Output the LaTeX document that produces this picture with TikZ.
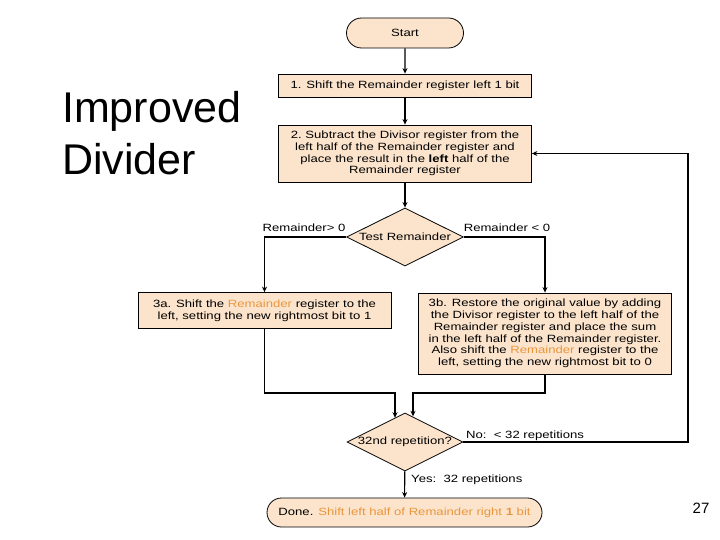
\documentclass[tikz,border=0pt]{standalone}
\usepackage{fontspec}
\setmainfont{Liberation Sans}
\newfontfamily\chartfont[FakeStretch=1.25]{Liberation Sans}
\usepackage{tikz}
\usetikzlibrary{arrows.meta,calc,positioning,shapes.geometric,shapes.misc}
\definecolor{peach}{RGB}{252,228,204}
\definecolor{orng}{RGB}{232,150,60}
\newcommand{\RR}{\textcolor{orng}{Remainder}}

\begin{document}
\begin{tikzpicture}[x=1pt,y=-1pt,
    every node/.style={font=\chartfont\fontsize{10.5}{11.7}\selectfont,inner sep=0pt},
    stepbox/.style={draw=black,line width=0.8pt,fill=peach,rectangle,align=center},
    term/.style={draw=black,line width=0.8pt,fill=peach,rounded rectangle},
    test/.style={draw=black,line width=0.8pt,fill=peach,diamond,aspect=2},
    arr/.style={line width=1.1pt,-{Stealth[length=5.5pt,width=5pt]}}]
      \useasboundingbox (0,0) rectangle (720,540);
      % title
      \node[anchor=base west,align=left,font=\fontsize{43}{52}\selectfont] (title) at (62,175) {Improved\\Divider};
      \node[font=\fontsize{15}{18}\selectfont] (page) at (701,508) {27};
      % steps
      \node[term,minimum width=117,minimum height=30] (start) at (405,33) {Start};
      \node[stepbox,minimum width=253,minimum height=23] (shift) at (405,85.5) {1. Shift the Remainder register left 1 bit};
      \node[stepbox,minimum width=253,minimum height=57] (sub) at (405,153.5) {2.\ Subtract the Divisor register from the\\left half of the Remainder register and\\place the result in the \textbf{left} half of the\\Remainder register};
      \node[test,minimum width=117,minimum height=58] (testrem) at (405,237) {Test Remainder};
      \node[stepbox,minimum width=253,minimum height=36] (posbox) at (264.5,310.5) {3a. Shift the \RR{} register to the\\left, setting the new rightmost bit to 1};
      \node[stepbox,minimum width=253,minimum height=81] (negbox) at (545,333.5) {3b. Restore the original value by adding\\the Divisor register to the left half of the\\Remainder register and place the sum\\in the left half of the Remainder register.\\Also shift the \RR{} register to the\\left, setting the new rightmost bit to 0};
      \node[test,minimum width=116,minimum height=58] (rep) at (405,442) {32nd repetition?};
      \node[term,minimum width=275,minimum height=29] (done) at (404.5,512.5) {Done. \textcolor{orng}{Shift left half of Remainder right \textbf{1} bit}};
      % helpers
      \coordinate (mergeL) at (395,393);
      \coordinate (mergeR) at (413,393);
      \coordinate (back) at (688,0);
      % connectors
      \draw[arr] (start) -- (shift);
      \draw[arr] (shift) -- (sub);
      \draw[arr] (sub) -- (testrem);
      \draw[arr] (testrem.west) -| (posbox.north);
      \draw[arr] (testrem.east) -| (negbox.north);
      \draw[arr] (posbox.south) |- (mergeL) -- (mergeL |- rep.113);
      \draw[arr] (negbox.south) |- (mergeR) -- (mergeR |- rep.74);
      \draw[arr] (rep.east) -- (rep.east -| back) |- (sub.east);
      \draw[arr] (rep) -- (done);
      % labels
      \node[anchor=base] (lblpos) at (304,231) {Remainder> 0};
      \node[anchor=base] (lblneg) at (507,231) {Remainder < 0};
      \node[anchor=base west] (lblno) at (466,438) {No:\ \ < 32 repetitions};
      \node[anchor=base west] (lblyes) at (411,482) {Yes:\ \ 32 repetitions};
    \end{tikzpicture}
\end{document}
